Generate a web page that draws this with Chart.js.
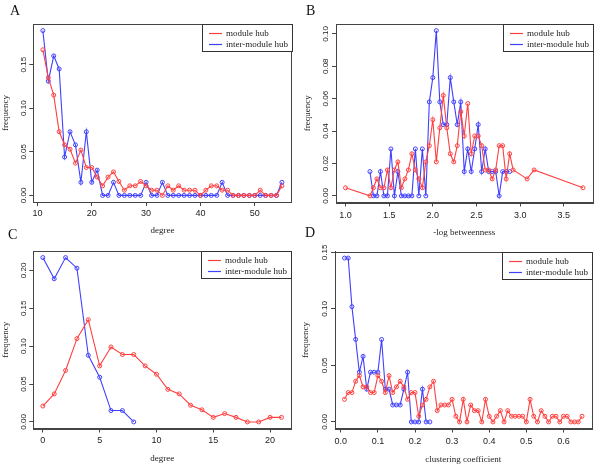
<!DOCTYPE html>
<html>
<head>
<meta charset="utf-8">
<script src="https://cdn.jsdelivr.net/npm/chart.js@4.4.0/dist/chart.umd.min.js"></script>
<style>
html,body{margin:0;padding:0;background:#fff;}
#wrap{position:relative;width:600px;height:473px;overflow:hidden;background:#fff;}
canvas{position:absolute;}
.lbl{position:absolute;font-family:'Liberation Serif','Times New Roman',serif;font-size:14px;line-height:14px;color:#111;}
</style>
</head>
<body>
<div id="wrap">
  <canvas id="cC" width="300" height="237" style="left:0;top:236px"></canvas>
  <canvas id="cD" width="300" height="237" style="left:300px;top:236px"></canvas>
  <canvas id="cA" width="300" height="246" style="left:0;top:0"></canvas>
  <canvas id="cB" width="300" height="246" style="left:300px;top:0"></canvas>
  <div class="lbl" style="left:10px;top:4px">A</div>
  <div class="lbl" style="left:306px;top:4px">B</div>
  <div class="lbl" style="left:8px;top:228px">C</div>
  <div class="lbl" style="left:305px;top:226px">D</div>
</div>
<script>
// ---------------- DATA ----------------
const seriesNames = ['module hub', 'inter-module hub'];

// Panel A: degree
const degreeA = [11,12,13,14,15,16,17,18,19,20,21,22,23,24,25,26,27,28,29,30,31,32,33,34,35,36,37,38,39,40,41,42,43,44,45,46,47,48,49,50,51,52,53,54,55];
const moduleHubA = [0.167,0.135,0.115,0.073,0.058,0.053,0.037,0.052,0.032,0.032,0.021,0.011,0.021,0.027,0.016,0.006,0.011,0.011,0.016,0.011,0.006,0.006,0.000,0.011,0.006,0.011,0.006,0.006,0.006,0.000,0.006,0.011,0.011,0.006,0.006,0,0,0,0,0,0.006,0,0,0,0.011];
const interHubA = [0.189,0.131,0.160,0.145,0.044,0.073,0.058,0.015,0.073,0.015,0.029,0,0,0.015,0,0,0,0,0,0.015,0,0,0.015,0,0,0,0,0,0,0,0,0,0,0.015,0,0,0,0,0,0,0,0,0,0,0.015];
const xTicksA = [10,20,30,40,50];
const yTicksA = [0,0.05,0.10,0.15];

// Panel B: -log betweenness
const betweenModuleX = [1.00,1.28,1.32,1.36,1.40,1.44,1.48,1.52,1.56,1.60,1.64,1.68,1.72,1.76,1.80,1.84,1.88,1.92,1.96,2.00,2.04,2.08,2.12,2.16,2.20,2.24,2.28,2.32,2.36,2.40,2.44,2.48,2.52,2.56,2.60,2.64,2.68,2.72,2.76,2.80,2.84,2.88,2.92,3.08,3.16,3.72];
const moduleHubB = [0.005,0,0.005,0.0105,0.005,0.005,0.016,0.005,0.016,0.021,0.005,0.0105,0.016,0.026,0.016,0.0105,0.005,0.021,0.031,0.047,0.021,0.042,0.062,0.042,0.026,0.021,0.031,0.052,0.037,0.057,0.026,0.037,0.037,0.031,0.016,0.016,0.0105,0.016,0.031,0.031,0.0105,0.026,0.016,0.0105,0.016,0.005];
const betweenInterX = [1.28,1.32,1.36,1.40,1.44,1.48,1.52,1.56,1.60,1.64,1.68,1.72,1.76,1.80,1.84,1.88,1.92,1.96,2.00,2.04,2.08,2.12,2.16,2.20,2.24,2.28,2.32,2.36,2.40,2.44,2.48,2.52,2.56,2.60,2.64,2.68,2.72,2.76,2.80,2.84,2.88];
const interHubB = [0.015,0,0,0.015,0,0,0.029,0,0.015,0,0,0,0,0.029,0,0.029,0,0.058,0.073,0.102,0.058,0.044,0.044,0.073,0.058,0.044,0.058,0.015,0.029,0.015,0.029,0.044,0.015,0.029,0.015,0.015,0.015,0,0.015,0.015,0.015];
const xTicksB = [1.0,1.5,2.0,2.5,3.0,3.5];
const yTicksB = [0,0.02,0.04,0.06,0.08,0.10];

// Panel C: degree
const degreeModuleC = [0,1,2,3,4,5,6,7,8,9,10,11,12,13,14,15,16,17,18,19,20,21];
const moduleHubC = [0.021,0.037,0.068,0.110,0.135,0.074,0.099,0.089,0.089,0.074,0.063,0.043,0.037,0.022,0.016,0.006,0.011,0.006,0,0,0.006,0.006];
const degreeInterC = [0,1,2,3,4,5,6,7,8];
const interHubC = [0.217,0.189,0.217,0.203,0.088,0.059,0.015,0.015,0];
const xTicksC = [0,5,10,15,20];
const yTicksC = [0,0.05,0.10,0.15,0.20];

// Panel D: clustering coefficient
const clusterModuleX = [0.01,0.02,0.03,0.04,0.05,0.06,0.07,0.08,0.09,0.10,0.11,0.12,0.13,0.14,0.15,0.16,0.17,0.18,0.19,0.20,0.21,0.22,0.23,0.24,0.25,0.26,0.27,0.28,0.29,0.30,0.31,0.32,0.33,0.34,0.35,0.36,0.37,0.38,0.39,0.40,0.41,0.42,0.43,0.44,0.45,0.46,0.47,0.48,0.49,0.50,0.51,0.52,0.53,0.54,0.55,0.56,0.57,0.58,0.59,0.60,0.61,0.62,0.63,0.64,0.65];
const moduleHubD = [0.020,0.026,0.026,0.036,0.041,0.031,0.031,0.026,0.026,0.041,0.036,0.026,0.041,0.026,0.031,0.036,0.031,0.020,0.026,0.026,0.005,0.015,0.020,0.031,0.036,0.010,0.015,0.015,0.015,0.020,0.005,0,0.020,0,0.015,0.010,0.010,0,0.020,0.005,0,0.005,0.010,0,0.010,0.005,0.005,0.005,0.005,0,0.020,0.005,0,0.010,0.005,0,0.005,0.005,0,0.005,0.005,0,0,0,0.005];
const clusterInterX = [0.01,0.02,0.03,0.04,0.05,0.06,0.07,0.08,0.09,0.10,0.11,0.12,0.13,0.14,0.15,0.16,0.17,0.18,0.19,0.20,0.21,0.22,0.23,0.24];
const interHubD = [0.145,0.145,0.102,0.073,0.044,0.058,0.029,0.044,0.044,0.044,0.073,0.029,0.029,0.015,0.015,0.015,0.029,0.044,0,0,0,0.029,0,0];
const xTicksD = [0.0,0.1,0.2,0.3,0.4,0.5,0.6];
const yTicksD = [0,0.05,0.10,0.15];

// ---------------- STYLE ----------------
const RED = 'rgb(255,64,64)';
const BLUE = 'rgb(64,64,255)';
const SANS = "'Liberation Sans', Arial, sans-serif";
const SERIF = "'Liberation Serif', 'Times New Roman', serif";
const INK = '#222';

function pts(xs, ys) { return xs.map((x, i) => ({x: x, y: ys[i]})); }
function padRange(vals) {
  const mn = Math.min.apply(null, vals), mx = Math.max.apply(null, vals);
  const d = (mx - mn) * 0.04;
  return [mn - d, mx + d];
}

const framePlugin = {
  id: 'frame',
  beforeDatasetsDraw(chart) {
    const a = chart.chartArea, ctx = chart.ctx;
    ctx.save();
    ctx.strokeStyle = '#444';
    ctx.lineWidth = 1;
    ctx.strokeRect(Math.round(a.left) + 0.5, Math.round(a.top) + 0.5, Math.round(a.right - a.left), Math.round(a.bottom - a.top));
    ctx.restore();
  }
};

const boxLegend = {
  id: 'boxLegend',
  afterDatasetsDraw(chart, args, opts) {
    const a = chart.chartArea, ctx = chart.ctx;
    const w = opts.width || 90, h = opts.height || 27;
    const x0 = Math.round(a.right - w), y0 = Math.round(a.top);
    ctx.save();
    ctx.fillStyle = '#fff';
    ctx.fillRect(x0, y0, w, h);
    ctx.strokeStyle = '#333';
    ctx.lineWidth = 1;
    ctx.strokeRect(x0 + 0.5, y0 + 0.5, w, h);
    chart.data.datasets.forEach((ds, i) => {
      const y = y0 + 9.5 + i * 11;
      ctx.strokeStyle = ds.borderColor;
      ctx.lineWidth = 1.2;
      ctx.beginPath();
      ctx.moveTo(x0 + 7, y);
      ctx.lineTo(x0 + 20, y);
      ctx.stroke();
      ctx.fillStyle = INK;
      ctx.font = '9px ' + SERIF;
      ctx.textBaseline = 'middle';
      ctx.textAlign = 'left';
      ctx.fillText(ds.label, x0 + 24, y);
    });
    ctx.restore();
  }
};

function dataset(label, data, color) {
  return {
    label: label, data: data, borderColor: color, borderWidth: 1.1,
    pointRadius: 2, pointBorderWidth: 1, pointBorderColor: color,
    pointBackgroundColor: 'rgba(255,255,255,0)', tension: 0, fill: false
  };
}

function panel(id, g, xs1, ys1, xs2, ys2, xTicks, yTicks, xDec, yDec, xTitle) {
  const xr = padRange(xs1.concat(xs2));
  const yr = padRange(ys1.concat(ys2));
  const gridOpts = {drawOnChartArea: false, drawTicks: true, tickLength: 4, color: '#444', lineWidth: 1};
  new Chart(document.getElementById(id), {
    type: 'line',
    data: {datasets: [dataset(seriesNames[0], pts(xs1, ys1), RED), dataset(seriesNames[1], pts(xs2, ys2), BLUE)]},
    options: {
      responsive: false, animation: false, devicePixelRatio: 1,
      layout: {padding: {left: 0, top: g.top, right: 300 - g.right, bottom: 0}},
      plugins: {legend: {display: false}, tooltip: {enabled: false}, boxLegend: {width: 90, height: 27}},
      scales: {
        x: {
          type: 'linear', min: xr[0], max: xr[1],
          afterBuildTicks: s => { s.ticks = xTicks.map(v => ({value: v})); },
          afterFit: s => { s.height = g.h - g.bottom; },
          ticks: {font: {family: SANS, size: 9}, color: INK, padding: g.xTickPad, autoSkip: false, maxRotation: 0, minRotation: 0,
                  callback: v => Number(v).toFixed(xDec)},
          grid: gridOpts,
          border: {display: true, color: '#444', width: 1},
          title: {display: true, text: xTitle, font: {family: SERIF, size: 9}, color: INK, padding: {top: 0, bottom: g.xTitlePad}}
        },
        y: {
          type: 'linear', min: yr[0], max: yr[1],
          afterBuildTicks: s => { s.ticks = yTicks.map(v => ({value: v})); },
          afterFit: s => { s.width = g.left; },
          ticks: {font: {family: SANS, size: 8}, color: INK, padding: -1.8, autoSkip: false, minRotation: 90, maxRotation: 90, crossAlign: 'center',
                  callback: v => Number(v).toFixed(yDec)},
          grid: gridOpts,
          border: {display: true, color: '#444', width: 1},
          title: {display: true, text: 'frequency', font: {family: SERIF, size: 9}, color: INK, padding: {top: g.yTitlePad, bottom: 0}}
        }
      }
    },
    plugins: [framePlugin, boxLegend]
  });
}

const gA = {top: 24, bottom: 202, left: 33.3, right: 291.5, h: 246, xTickPad: 2.3, xTitlePad: 10, yTitlePad: 0.6};
const gB = {top: 24, bottom: 202.5, left: 36, right: 292.5, h: 246, xTickPad: 4, xTitlePad: 8, yTitlePad: 1.9};
const gC = {top: 15, bottom: 192.5, left: 33.3, right: 291, h: 237, xTickPad: 2.5, xTitlePad: 8.9, yTitlePad: 0.6};
const gD = {top: 15.5, bottom: 192.5, left: 35, right: 291.5, h: 237, xTickPad: 3.5, xTitlePad: 7.6, yTitlePad: 0.6};

panel('cA', gA, degreeA, moduleHubA, degreeA, interHubA, xTicksA, yTicksA, 0, 2, 'degree');
panel('cB', gB, betweenModuleX, moduleHubB, betweenInterX, interHubB, xTicksB, yTicksB, 1, 2, '-log betweenness');
panel('cC', gC, degreeModuleC, moduleHubC, degreeInterC, interHubC, xTicksC, yTicksC, 0, 2, 'degree');
panel('cD', gD, clusterModuleX, moduleHubD, clusterInterX, interHubD, xTicksD, yTicksD, 1, 2, 'clustering coefficient');
</script>
</body>
</html>
